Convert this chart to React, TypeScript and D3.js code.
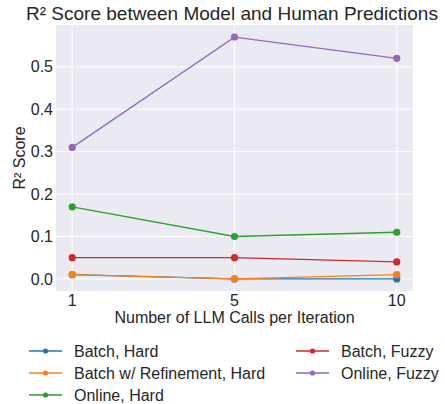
import React from "react";
import * as d3 from "d3";

const categories = ["1", "5", "10"];
const seriesNames = ["Batch, Hard", "Batch w/ Refinement, Hard", "Online, Hard", "Batch, Fuzzy", "Online, Fuzzy"];
const batchHard = [0.01, 0.0, 0.0];
const batchRefHard = [0.01, 0.0, 0.01];
const onlineHard = [0.17, 0.1, 0.11];
const batchFuzzy = [0.05, 0.05, 0.04];
const onlineFuzzy = [0.31, 0.57, 0.52];
const yTicks = [0, 0.1, 0.2, 0.3, 0.4, 0.5];
const colors = ["#1f77b4", "#ff7f0e", "#2ca02c", "#d62728", "#9467bd"];

const W = 445, H = 404;
const L = 56, R = 413, T = 25, B = 291;
const FONT = "'Liberation Sans', Arial, sans-serif";

export default function App() {
  const series = [batchHard, batchRefHard, onlineHard, batchFuzzy, onlineFuzzy];
  const x = d3.scaleLinear().domain([-0.1, 2.1]).range([L, R]);
  const y = d3.scaleLinear().domain([-0.0285, 0.5985]).range([B, T]);
  const line = d3.line<number>().x((_, i) => x(i)).y((d) => y(d));
  const legendPos = [
    [29, 351], [29, 373], [29, 395], [296, 351], [296, 373],
  ];
  return (
    <svg width={W} height={H} style={{ position: "absolute", left: 0, top: 0 }} fontFamily={FONT}>
      <rect x={0} y={0} width={W} height={H} fill="white" />
      <rect x={L} y={T} width={R - L} height={B - T} fill="#EAEAF2" />
      {yTicks.map((t) => (
        <line key={"gy" + t} x1={L} x2={R} y1={y(t)} y2={y(t)} stroke="white" strokeWidth={1} />
      ))}
      {categories.map((c, i) => (
        <line key={"gx" + c} x1={x(i)} x2={x(i)} y1={T} y2={B} stroke="white" strokeWidth={1} />
      ))}
      {series.map((s, k) => (
        <g key={k}>
          <path d={line(s) || ""} fill="none" stroke={colors[k]} strokeWidth={1.3} />
          {s.map((v, i) => (
            <circle key={i} cx={x(i)} cy={y(v)} r={3.6} fill={colors[k]} />
          ))}
        </g>
      ))}
      {yTicks.map((t) => (
        <text key={"ty" + t} x={53} y={y(t)} dy="0.35em" textAnchor="end" fontSize={16} fill="#262626">
          {t.toFixed(1)}
        </text>
      ))}
      {categories.map((c, i) => (
        <text key={"tx" + c} x={x(i)} y={306} textAnchor="middle" fontSize={16} fill="#262626">
          {c}
        </text>
      ))}
      <text x={232} y={20} textAnchor="middle" fontSize={19} fill="#262626">
        R² Score between Model and Human Predictions
      </text>
      <text x={(L + R) / 2} y={323} textAnchor="middle" fontSize={16} fill="#262626">
        Number of LLM Calls per Iteration
      </text>
      <text transform={`translate(25,${(T + B) / 2}) rotate(-90)`} textAnchor="middle" fontSize={16} fill="#262626">
        R² Score
      </text>
      {seriesNames.map((n, k) => {
        const [lx, ly] = legendPos[k];
        return (
          <g key={n}>
            <line x1={lx} x2={lx + 33} y1={ly} y2={ly} stroke={colors[k]} strokeWidth={1.3} />
            <circle cx={lx + 16.5} cy={ly} r={2.6} fill={colors[k]} />
            <text x={lx + 45} y={ly} dy="0.35em" fontSize={16} fill="#262626">
              {n}
            </text>
          </g>
        );
      })}
    </svg>
  );
}
